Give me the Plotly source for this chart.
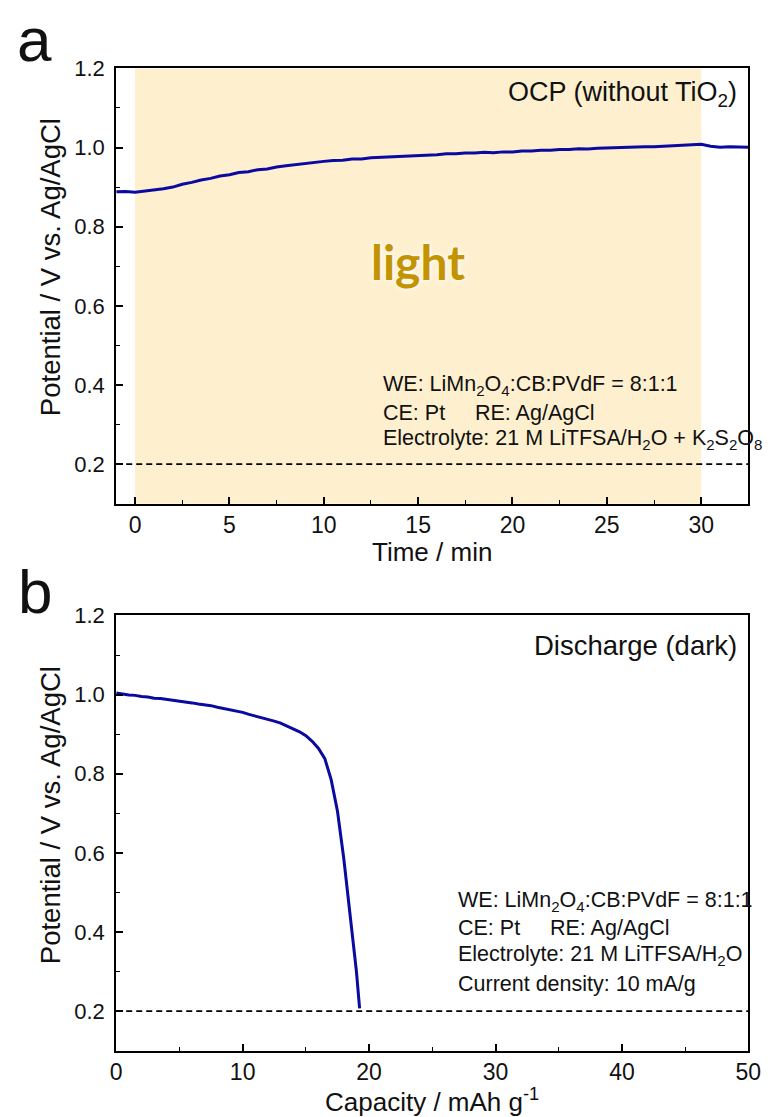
import plotly.graph_objects as go

# ---------------- data ----------------
time_min = [-1.0, -0.5, 0.0, 0.5, 1.0, 1.5, 2.0, 2.5, 3.0, 3.5, 4.0, 4.5, 5.0, 5.5,
            6.0, 6.5, 7.0, 7.5, 8.0, 8.5, 9.0, 9.5, 10.0, 10.5, 11.0, 11.5, 12.0,
            12.5, 13.0, 13.5, 14.0, 14.5, 15.0, 15.5, 16.0, 16.5, 17.0, 17.5, 18.0,
            18.5, 19.0, 19.5, 20.0, 20.5, 21.0, 21.5, 22.0, 22.5, 23.0, 23.5, 24.0,
            24.5, 25.0, 25.5, 26.0, 26.5, 27.0, 27.5, 28.0, 28.5, 29.0, 29.5, 30.0,
            30.5, 31.0, 31.5, 32.0, 32.5]
ocp_potential = [0.888, 0.889, 0.887, 0.890, 0.892, 0.896, 0.900, 0.907, 0.912, 0.918,
                 0.922, 0.928, 0.931, 0.937, 0.939, 0.944, 0.946, 0.951, 0.954, 0.957,
                 0.959, 0.963, 0.965, 0.967, 0.968, 0.971, 0.971, 0.974, 0.975, 0.976,
                 0.977, 0.979, 0.980, 0.981, 0.982, 0.984, 0.984, 0.986, 0.986, 0.988,
                 0.987, 0.989, 0.989, 0.991, 0.991, 0.993, 0.993, 0.995, 0.995, 0.997,
                 0.996, 0.998, 0.999, 1.000, 1.000, 1.001, 1.002, 1.002, 1.003, 1.004,
                 1.005, 1.007, 1.008, 1.003, 1.001, 1.002, 1.001, 1.001]

capacity = [0.0, 0.5, 1.0, 1.5, 2.0, 2.5, 3.0, 3.5, 4.0, 4.5, 5.0, 5.5, 6.0, 6.5,
            7.0, 7.5, 8.0, 8.5, 9.0, 9.5, 10.0, 10.5, 11.0, 11.5, 12.0, 12.5, 13.0,
            13.5, 14.0, 14.5, 15.0, 15.5, 16.0, 16.5, 17.0, 17.5, 18.0, 18.5, 19.0, 19.25]
discharge_potential = [1.004, 1.001, 0.999, 0.998, 0.995, 0.994, 0.991, 0.990, 0.988,
                       0.986, 0.983, 0.982, 0.979, 0.976, 0.974, 0.972, 0.968, 0.965,
                       0.961, 0.958, 0.955, 0.950, 0.946, 0.942, 0.937, 0.933, 0.928,
                       0.921, 0.914, 0.906, 0.896, 0.882, 0.864, 0.838, 0.785, 0.705,
                       0.585, 0.445, 0.300, 0.207]

light_window = [0, 30]
cutoff_v = 0.2

x1_ticks = [0, 5, 10, 15, 20, 25, 30]
x2_ticks = [0, 10, 20, 30, 40, 50]
y_ticks = [0.2, 0.4, 0.6, 0.8, 1.0, 1.2]

# ---------------- style ----------------
W, H = 776, 1117
LINE = "#0a0aa0"
FONT = "Liberation Sans, Arial, sans-serif"

def py(y):
    return 1 - y / H

xdom = [113 / W, 761 / W]
ydom_a = [py(497), py(57)]
ydom_b = [py(1050), py(610)]

fig = go.Figure()
fig.add_trace(go.Scatter(x=time_min, y=ocp_potential, mode="lines",
                         line=dict(color=LINE, width=3), xaxis="x", yaxis="y",
                         showlegend=False))
fig.add_trace(go.Scatter(x=capacity, y=discharge_potential, mode="lines",
                         line=dict(color=LINE, width=3), xaxis="x2", yaxis="y2",
                         showlegend=False))

axis_common = dict(showline=True, linecolor="black", linewidth=2, mirror=True,
                   ticks="inside", ticklen=7, tickwidth=1.6, tickcolor="black",
                   showgrid=False, zeroline=False)
xfont = dict(family=FONT, size=23, color="#111")
yfont = dict(family=FONT, size=22, color="#111")
minor_style = dict(ticks="inside", ticklen=4, tickwidth=1.4, tickcolor="black")

fig.update_layout(
    width=W, height=H, margin=dict(l=0, r=0, t=0, b=0),
    paper_bgcolor="white", plot_bgcolor="white",
    xaxis=dict(domain=xdom, range=[-1, 32.5], anchor="y", tickvals=x1_ticks,
               minor=dict(tickvals=[2.5, 7.5, 12.5, 17.5, 22.5, 27.5], **minor_style),
               ticklabelstandoff=0, tickfont=xfont, **axis_common),
    yaxis=dict(domain=ydom_a, range=[0.1, 1.2], anchor="x", tickvals=y_ticks,
               tickformat=".1f",
               minor=dict(tickvals=[0.3, 0.5, 0.7, 0.9, 1.1], **minor_style),
               ticklabelstandoff=5, tickfont=yfont, **axis_common),
    xaxis2=dict(domain=xdom, range=[0, 50], anchor="y2", tickvals=x2_ticks,
                minor=dict(tickvals=[5, 15, 25, 35, 45], **minor_style),
                ticklabelstandoff=0, tickfont=xfont, **axis_common),
    yaxis2=dict(domain=ydom_b, range=[0.1, 1.2], anchor="x2", tickvals=y_ticks,
                tickformat=".1f",
                minor=dict(tickvals=[0.3, 0.5, 0.7, 0.9, 1.1], **minor_style),
                ticklabelstandoff=5, tickfont=yfont, **axis_common),
)

# light shading
fig.add_shape(type="rect", xref="x", yref="y domain", x0=light_window[0], x1=light_window[1],
              y0=0, y1=1, fillcolor="#fef0cf", line=dict(width=0), layer="below")
# cutoff dashed lines
for xr, yr in [("x domain", "y"), ("x2 domain", "y2")]:
    fig.add_shape(type="line", xref=xr, yref=yr, x0=0, x1=1, y0=cutoff_v, y1=cutoff_v,
                  line=dict(color="black", width=1.6, dash="6px,4px"), layer="above")

ann = []
def txt(x, y, s, size, anchor="left", color="#111", family=FONT, angle=0, **fextra):
    ann.append(dict(x=x / W, y=py(y), xref="paper", yref="paper", text=s, showarrow=False,
                    xanchor=anchor, yanchor="middle", textangle=angle, borderpad=0,
                    font=dict(family=family, size=size, color=color, **fextra)))

# panel labels
txt(29, 28, "a", 62, anchor="center")
txt(30, 586, "b", 62, anchor="center")
# y titles
txt(45, 258, "Potential / V vs. Ag/AgCl", 27.5, anchor="center", angle=-90)
txt(45, 812, "Potential / V vs. Ag/AgCl", 27.5, anchor="center", angle=-90)
# x titles
txt(437, 546, "Time / min", 26, anchor="center")
txt(437, 1100, "Capacity / mAh g<sup>-1</sup>", 26, anchor="center")
# panel a texts
txt(750, 83, "OCP (without TiO<sub>2</sub>)", 27, anchor="right")
txt(422, 252, "light", 48, anchor="center", color="#c39300",
    family="Lato, Open Sans, sans-serif", weight="bold",
    shadow="0 0 3px white, 0 0 5px white")
sp = "&nbsp;" * 5
txt(385, 378, "WE: LiMn<sub>2</sub>O<sub>4</sub>:CB:PVdF = 8:1:1", 21.5)
txt(385, 405, "CE: Pt" + sp + "RE: Ag/AgCl", 21.5)
txt(385, 432, "Electrolyte: 21 M LiTFSA/H<sub>2</sub>O + K<sub>2</sub>S<sub>2</sub>O<sub>8</sub>", 21.5)
# panel b texts
txt(750, 640, "Discharge (dark)", 27.5, anchor="right")
txt(462, 899, "WE: LiMn<sub>2</sub>O<sub>4</sub>:CB:PVdF = 8:1:1", 21.5)
txt(462, 926, "CE: Pt" + sp + "RE: Ag/AgCl", 21.5)
txt(462, 954, "Electrolyte: 21 M LiTFSA/H<sub>2</sub>O", 21.5)
txt(462, 983, "Current density: 10 mA/g", 21.5)

fig.update_layout(annotations=ann)
fig.write_html("out.html")
